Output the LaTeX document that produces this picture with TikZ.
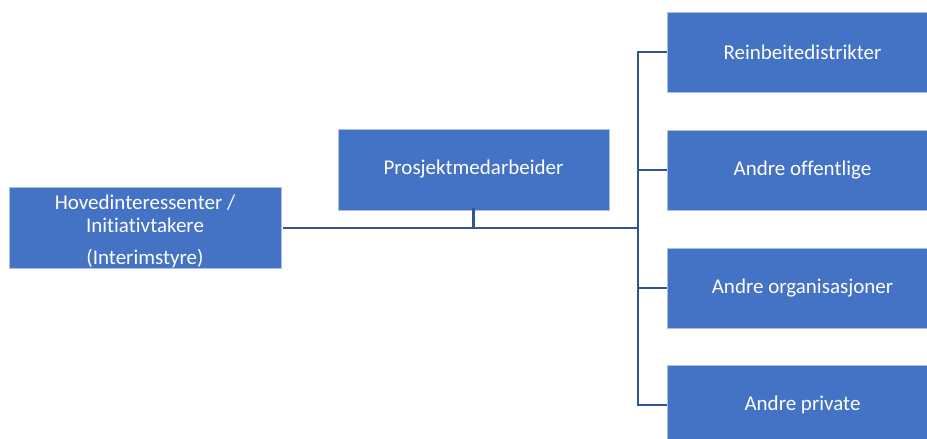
\documentclass[tikz,border=0pt]{standalone}
\usepackage{fontspec}
\setmainfont[Ligatures=NoCommon]{Carlito}
\definecolor{boxblue}{HTML}{4472C4}
\definecolor{linkblue}{HTML}{2F5597}
\begin{document}
\begin{tikzpicture}[x=1pt,y=-1pt,
  orgbox/.style={rectangle, fill=boxblue, draw=white!55!boxblue, line width=0.8pt,
    minimum width=271pt, minimum height=80pt, inner sep=0pt, text=white, align=center,
    font=\fontsize{21}{23}\selectfont},
  link/.style={draw=linkblue, line width=2.8pt}]
\useasboundingbox (0,0) rectangle (927,439);
\clip (0,0) rectangle (927,439);
\node[orgbox, minimum width=272pt, minimum height=81pt] (lead) at (145,228)
  {\rule{0pt}{21pt}Hovedinteressenter /\\Initiativtakere\\[9pt](Interimstyre)};
\node[orgbox, minimum height=81pt] (mid) at (473.5,169.5) {Prosjektmedarbeider};
\node[orgbox] (r1) at (802.5,52) {Reinbeitedistrikter};
\node[orgbox] (r2) at (802.5,170) {Andre offentlige};
\node[orgbox] (r3) at (802.5,288) {Andre organisasjoner};
\node[orgbox] (r4) at (802.5,405) {Andre private};
\coordinate (j) at (638,228);
\draw[link] ([xshift=2pt]lead.east) -- (j);
\draw[link] ([yshift=2pt]mid.south) -- (mid.south |- j);
\draw[link] (r1.west) -- (r1.west -| j) -- (r4.west -| j) -- (r4.west);
\draw[link] (r2.west) -- (r2.west -| j);
\draw[link] (r3.west) -- (r3.west -| j);
\end{tikzpicture}
\end{document}
